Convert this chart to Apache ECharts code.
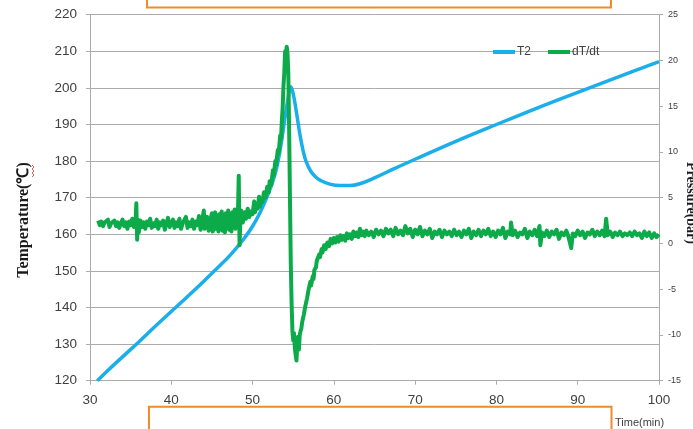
<!DOCTYPE html>
<html>
<head>
<meta charset="utf-8">
<script src="https://cdn.jsdelivr.net/npm/echarts@6/dist/echarts.min.js"></script>
<style>
  html, body { margin: 0; padding: 0; background: #fff; }
  #chart { width: 693px; height: 429px; }
</style>
</head>
<body>
<div id="chart"></div>
<script>
// Temperature T2 (°C) against time (min)
const t2Series = [
  [30.9, 120], [32, 122.4], [34, 126.5], [36, 130.6], [38, 134.8], [40, 138.9],
  [42, 143.0], [44, 147.2], [46, 151.5], [47, 153.7], [48, 156.2], [49, 159.0],
  [50, 162.2], [51, 166.3], [52, 171.5], [52.5, 174.5], [53, 178.5], [53.5, 184.5],
  [54, 192.0], [54.4, 197.6], [54.7, 200.3], [55, 198.4], [55.4, 193.3], [55.8, 187.6],
  [56.2, 183.0], [56.6, 179.8], [57.2, 177.1], [57.8, 175.6], [58.3, 174.8], [59.5, 173.7],
  [60.8, 173.3], [62, 173.3], [63.2, 173.8], [65, 175.4], [67.5, 178.0], [70, 180.5],
  [75, 185.4], [80, 190.0], [85, 194.5], [90, 198.8], [95, 203.0], [100, 207.2]
];

// Heating rate dT/dt, plotted on the right-hand axis
const dTdtSeries = [
  [31.0, 2.5], [31.2, 2.0], [31.4, 2.4], [31.6, 1.9], [31.8, 2.3], [32.0, 2.1], [32.2, 2.6], [32.4, 1.8],
  [32.6, 2.2], [32.8, 2.0], [33.0, 2.5], [33.2, 1.9], [33.4, 2.3], [33.6, 1.7], [33.8, 2.2], [34.0, 2.6],
  [34.2, 1.9], [34.4, 2.3], [34.6, 1.6], [34.8, 2.4], [35.0, 2.0], [35.2, 2.7], [35.4, 1.8], [35.6, 2.2],
  [35.7, 4.4], [35.8, 0.4], [35.9, 2.6], [36.0, 1.2], [36.2, 2.5], [36.4, 1.8], [36.6, 2.3], [36.8, 1.6],
  [37.0, 2.4], [37.2, 2.0], [37.4, 2.7], [37.6, 1.7], [37.8, 2.2], [38.0, 1.9], [38.2, 2.6], [38.4, 1.6],
  [38.6, 2.3], [38.8, 2.0], [39.0, 2.5], [39.2, 1.5], [39.4, 2.2], [39.6, 2.8], [39.8, 1.8], [40.0, 2.1],
  [40.2, 2.6], [40.4, 1.7], [40.6, 2.3], [40.8, 1.9], [41.0, 2.7], [41.2, 1.6], [41.4, 2.2], [41.6, 2.0],
  [41.8, 2.9], [42.0, 1.7], [42.2, 2.3], [42.4, 1.9], [42.6, 2.6], [42.8, 1.6], [43.0, 2.4], [43.2, 2.0],
  [43.4, 3.0], [43.6, 1.5], [43.8, 2.5], [44.0, 3.6], [44.1, 1.6], [44.2, 2.4], [44.4, 2.9], [44.6, 1.4],
  [44.8, 2.6], [45.0, 3.3], [45.1, 1.3], [45.2, 2.8], [45.4, 3.4], [45.5, 1.6], [45.6, 2.9], [45.8, 1.3],
  [45.9, 3.2], [46.0, 2.0], [46.2, 3.5], [46.3, 1.4], [46.4, 2.8], [46.6, 1.2], [46.7, 3.3], [46.8, 2.1],
  [47.0, 3.6], [47.1, 1.5], [47.2, 2.9], [47.4, 1.3], [47.5, 3.4], [47.6, 2.2], [47.8, 3.7], [47.9, 1.6],
  [48.0, 3.0], [48.1, 1.8], [48.2, 3.3], [48.3, 7.4], [48.4, -0.2], [48.5, 2.6], [48.6, 3.6], [48.8, 2.3],
  [49.0, 3.4], [49.2, 2.7], [49.4, 3.8], [49.6, 2.9], [49.8, 3.5], [50.0, 3.2], [50.2, 4.6], [50.3, 3.4],
  [50.4, 4.2], [50.6, 3.8], [50.8, 5.1], [50.9, 4.0], [51.0, 4.8], [51.2, 4.5], [51.4, 5.6], [51.6, 5.0],
  [51.8, 6.2], [52.0, 5.6], [52.1, 6.8], [52.3, 6.4], [52.5, 8.0], [52.6, 7.4], [52.8, 9.0], [52.9, 8.6],
  [53.1, 10.2], [53.2, 9.8], [53.4, 11.8], [53.5, 11.4], [53.6, 13.4], [53.7, 14.8], [53.8, 17.2], [53.9, 18.6],
  [54.0, 21.0], [54.1, 20.2], [54.2, 21.5], [54.3, 20.8], [54.4, 18.5], [54.5, 12.3], [54.6, 5.0], [54.7, -2.2],
  [54.8, -6.5], [54.9, -9.5], [55.0, -10.6], [55.1, -9.8], [55.2, -11.4], [55.3, -12.2], [55.4, -12.8], [55.5, -11.0],
  [55.6, -10.2], [55.7, -11.6], [55.8, -10.0], [55.9, -9.6], [56.0, -9.3], [56.1, -8.6], [56.2, -8.8], [56.3, -7.8],
  [56.4, -7.6], [56.5, -6.8], [56.6, -7.0], [56.7, -6.0], [56.8, -5.8], [56.9, -5.0], [57.0, -5.2], [57.1, -4.2],
  [57.2, -4.6], [57.4, -3.6], [57.5, -3.9], [57.6, -2.9], [57.8, -2.6], [57.9, -1.9], [58.0, -2.1], [58.2, -1.2],
  [58.3, -1.5], [58.5, -0.6], [58.6, -1.0], [58.8, -0.2], [59.0, -0.6], [59.2, 0.1], [59.4, -0.3], [59.6, 0.5],
  [59.8, 0.0], [60.0, 0.6], [60.2, 0.1], [60.4, 0.7], [60.6, 0.2], [60.8, 0.9], [61.0, 0.4], [61.2, 0.8],
  [61.4, 0.3], [61.6, 1.1], [61.8, 0.6], [62.0, 1.0], [62.2, 0.5], [62.4, 1.3], [62.6, 0.8], [62.8, 1.2],
  [63.0, 0.7], [63.2, 1.6], [63.4, 0.9], [63.6, 1.3], [63.8, 0.8], [64.0, 1.4], [64.3, 0.9], [64.6, 1.3],
  [64.9, 0.7], [65.2, 1.5], [65.5, 1.0], [65.8, 1.4], [66.1, 0.8], [66.4, 1.6], [66.7, 1.1], [67.0, 1.5],
  [67.3, 0.8], [67.6, 1.7], [67.9, 1.0], [68.2, 1.4], [68.5, 0.9], [68.8, 1.9], [69.1, 1.1], [69.4, 1.6],
  [69.7, 0.7], [70.0, 1.5], [70.3, 1.0], [70.6, 1.8], [70.9, 0.8], [71.2, 1.4], [71.5, 1.0], [71.8, 1.6],
  [72.1, 0.6], [72.4, 1.3], [72.7, 1.0], [73.0, 1.5], [73.3, 0.7], [73.6, 1.4], [73.9, 1.0], [74.2, 1.3],
  [74.5, 0.8], [74.8, 1.5], [75.1, 0.9], [75.4, 1.3], [75.7, 0.7], [76.0, 1.4], [76.3, 1.0], [76.6, 1.6],
  [76.9, 0.6], [77.2, 1.3], [77.5, 0.9], [77.8, 1.5], [78.1, 0.8], [78.4, 1.4], [78.7, 1.0], [79.0, 1.6],
  [79.3, 0.8], [79.6, 1.3], [79.9, 0.7], [80.2, 1.4], [80.5, 1.0], [80.8, 1.7], [81.1, 0.6], [81.4, 1.3],
  [81.7, 1.0], [81.8, 2.3], [82.0, 0.9], [82.3, 1.4], [82.6, 0.7], [82.9, 1.2], [83.2, 1.0], [83.5, 1.6],
  [83.8, 0.6], [84.1, 1.3], [84.4, 0.9], [84.7, 1.5], [85.0, 0.8], [85.3, 1.9], [85.4, -0.2], [85.6, 1.2],
  [85.9, 0.8], [86.2, 1.4], [86.5, 0.7], [86.8, 1.3], [87.1, 1.0], [87.4, 1.5], [87.7, 0.5], [88.0, 1.2],
  [88.3, 0.9], [88.6, 1.4], [88.9, 0.6], [89.2, -0.5], [89.4, 1.1], [89.7, 0.8], [90.0, 1.4], [90.3, 0.9],
  [90.6, 1.3], [90.9, 0.6], [91.2, 1.2], [91.5, 1.0], [91.8, 1.5], [92.1, 0.8], [92.4, 1.3], [92.7, 0.9],
  [93.0, 1.4], [93.3, 0.8], [93.5, 2.7], [93.7, 0.9], [94.0, 1.3], [94.3, 0.7], [94.6, 1.2], [94.9, 0.9],
  [95.2, 1.3], [95.5, 0.8], [95.8, 1.1], [96.1, 0.9], [96.4, 1.2], [96.7, 0.8], [97.0, 1.3], [97.3, 0.9],
  [97.6, 1.1], [97.9, 0.6], [98.2, 1.3], [98.5, 0.8], [98.8, 1.2], [99.1, 0.6], [99.4, 1.1], [99.7, 0.7],
  [100.0, 1.0]
];

const seriesNames = ['T2', 'dT/dt'];
const timeTicks = { min: 30, max: 100, step: 10 };
const tempTicks = { min: 120, max: 220, step: 10 };
const pressureTicks = { min: -15, max: 25, step: 5 };

const gridColor = '#ABABAB';
const labelColor = '#404040';
const accent = '#EE8C2B';

const chart = echarts.init(document.getElementById('chart'), null, { renderer: 'canvas' });

chart.setOption({
  animation: false,
  backgroundColor: '#ffffff',
  grid: { left: 90, right: 34, top: 14.7, bottom: 48.3, containLabel: false },
  legend: {
    data: seriesNames,
    left: 488, top: 41,
    icon: 'rect', itemWidth: 22, itemHeight: 4, itemGap: 17,
    textStyle: { fontFamily: 'Liberation Sans', fontSize: 12, color: labelColor, padding: [0, 0, 0, -3] }
  },
  xAxis: {
    type: 'value',
    min: timeTicks.min, max: timeTicks.max, interval: timeTicks.step,
    axisLine: { show: true, onZero: false, lineStyle: { color: gridColor, width: 1 } },
    axisTick: { show: true, length: 4, lineStyle: { color: gridColor } },
    axisLabel: { margin: 13, fontFamily: 'Liberation Sans', fontSize: 13.5, color: labelColor },
    splitLine: { show: false }
  },
  yAxis: [
    {
      type: 'value',
      min: tempTicks.min, max: tempTicks.max, interval: tempTicks.step,
      axisLine: { show: true, lineStyle: { color: gridColor, width: 1 } },
      axisTick: { show: true, length: 4, lineStyle: { color: gridColor } },
      axisLabel: { margin: 13, fontFamily: 'Liberation Sans', fontSize: 13.5, color: labelColor },
      splitLine: { show: true, lineStyle: { color: gridColor, width: 1 } }
    },
    {
      type: 'value',
      position: 'right',
      min: pressureTicks.min, max: pressureTicks.max, interval: pressureTicks.step,
      axisLine: { show: true, lineStyle: { color: gridColor, width: 1 } },
      axisTick: { show: true, length: 4, lineStyle: { color: gridColor } },
      axisLabel: { margin: 9, fontFamily: 'Liberation Sans', fontSize: 9, color: labelColor },
      splitLine: { show: false }
    }
  ],
  series: [
    {
      name: seriesNames[0],
      type: 'line',
      yAxisIndex: 0,
      data: t2Series,
      smooth: 0.4,
      showSymbol: false,
      color: '#1AAFEA',
      lineStyle: { width: 3.5, color: '#1AAFEA' },
      z: 2
    },
    {
      name: seriesNames[1],
      type: 'line',
      yAxisIndex: 1,
      data: dTdtSeries,
      showSymbol: false,
      color: '#0DAA4A',
      lineStyle: { width: 4, color: '#0DAA4A', join: 'round' },
      z: 3
    }
  ],
  graphic: [
    {
      type: 'text', x: 24, y: 220, rotation: Math.PI / 2,
      style: {
        text: 'Temperature(\u2103)', fontFamily: 'Liberation Serif', fontWeight: 'bold',
        fontSize: 16, fill: '#1a1a1a', align: 'center', verticalAlign: 'middle'
      }
    },
    {
      type: 'polyline',
      shape: { points: [[32, 165], [34, 167], [32, 169], [34, 171], [32, 173], [34, 175], [32, 177]] },
      style: { stroke: '#E0302A', lineWidth: 0.8, fill: null }
    },
    {
      type: 'text', x: 691, y: 203, rotation: -Math.PI / 2,
      style: {
        text: 'Pressure(bar)', fontFamily: 'Liberation Serif', fontWeight: 'bold',
        fontSize: 14, fill: '#1a1a1a', align: 'center', verticalAlign: 'middle'
      }
    },
    {
      type: 'text', x: 615, y: 423,
      style: {
        text: 'Time(min)', fontFamily: 'Liberation Sans', fontSize: 11,
        fill: labelColor, align: 'left', verticalAlign: 'middle'
      }
    },
    {
      type: 'rect', shape: { x: 147, y: -10, width: 464, height: 17.5 },
      style: { stroke: accent, lineWidth: 2, fill: null }
    },
    {
      type: 'rect', shape: { x: 149, y: 406.7, width: 462.5, height: 40 },
      style: { stroke: accent, lineWidth: 2, fill: null }
    }
  ]
});
</script>
</body>
</html>
